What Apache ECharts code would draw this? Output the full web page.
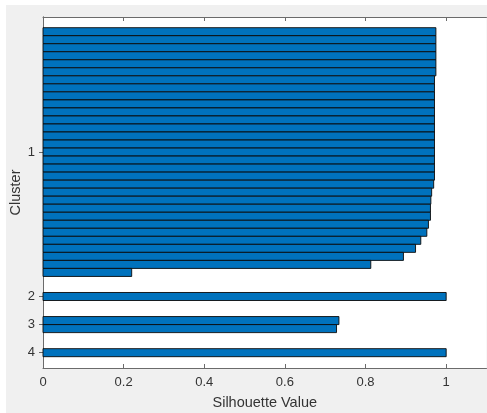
<!DOCTYPE html>
<html>
<head>
<meta charset="utf-8">
<script src="https://cdn.jsdelivr.net/npm/echarts@6/dist/echarts.min.js"></script>
<style>
  html, body { margin: 0; padding: 0; background: #fff; }
  #chart { position: absolute; left: 6px; top: 5px; width: 481px; height: 408px; }
</style>
</head>
<body>
<div id="chart"></div>
<script>
(() => {
    'use strict'

    // silhouette values per cluster, sorted descending inside each cluster
    const cluster1 = [0.9745, 0.9745, 0.9745, 0.9745, 0.9745, 0.9745,
        0.971, 0.971, 0.971, 0.971, 0.971, 0.971, 0.971, 0.971, 0.971, 0.971, 0.971, 0.971, 0.971,
        0.969, 0.964, 0.962, 0.961, 0.961, 0.956, 0.952, 0.937, 0.924, 0.894, 0.813, 0.22]
    const cluster2 = [1.0]
    const cluster3 = [0.734, 0.728]
    const cluster4 = [1.0]
    const clusterNames = ['1', '2', '3', '4']
    const xTicks = [0, 0.2, 0.4, 0.6, 0.8, 1]

    const clusters = [cluster1, cluster2, cluster3, cluster4]
    const GAP = 2

    // bar rows: [value, slot]; label positions at each cluster's middle
    const rows = []
    const centers = []
    let slot = 0
    clusters.forEach((vals, ci) => {
        if (ci > 0) slot += GAP
        centers.push(slot + vals.length / 2)
        vals.forEach(v => { rows.push([v, slot]); slot += 1 })
    })
    const yMin = -1.33
    const yMax = slot + 1.41

    const axisColor = '#6b6b6b'
    const textColor = '#333'
    const font = 'Liberation Sans, Arial, sans-serif'

    const nameOf = v => {
        const i = centers.findIndex(c => Math.abs(c - v) < 1e-6)
        return i >= 0 ? clusterNames[i] : ''
    }

    const yBase = {
        type: 'value',
        inverse: true,
        min: yMin,
        max: yMax,
        splitLine: {show: false},
        axisLine: {show: true, lineStyle: {color: axisColor, width: 1}},
        axisTick: {show: true, inside: true, length: 4, lineStyle: {color: axisColor}, customValues: centers}
    }
    const xBase = {
        type: 'value',
        min: 0,
        max: 1.1,
        splitLine: {show: false},
        axisLine: {show: true, onZero: false, lineStyle: {color: axisColor, width: 1}},
        axisTick: {show: true, inside: true, length: 4, lineStyle: {color: axisColor}, customValues: xTicks}
    }

    const chart = echarts.init(document.getElementById('chart'))
    chart.setOption({
        animation: false,
        backgroundColor: '#f0f0f0',
        grid: {
            left: 37, right: 0.5, top: 12, bottom: 45,
            outerBoundsMode: 'none',
            containLabel: false,
            show: true, backgroundColor: '#fff', borderWidth: 0
        },
        xAxis: [
            Object.assign({}, xBase, {
                position: 'bottom',
                name: 'Silhouette Value',
                nameLocation: 'middle',
                nameGap: 27,
                nameTextStyle: {color: textColor, fontSize: 14.5, fontFamily: font},
                axisLabel: {
                    color: textColor, fontSize: 13, fontFamily: font, margin: 8,
                    customValues: xTicks,
                    formatter: v => String(Math.round(v * 10) / 10)
                }
            }),
            Object.assign({}, xBase, {position: 'top', axisLabel: {show: false}})
        ],
        yAxis: [
            Object.assign({}, yBase, {
                position: 'left',
                name: 'Cluster',
                nameLocation: 'middle',
                nameGap: 20,
                nameMoveOverlap: false,
                nameTextStyle: {color: textColor, fontSize: 14.5, fontFamily: font},
                axisLabel: {
                    color: textColor, fontSize: 13, fontFamily: font, margin: 8,
                    customValues: centers,
                    formatter: nameOf
                }
            }),
            Object.assign({}, yBase, {position: 'right', axisLabel: {show: false}})
        ],
        series: [{
            type: 'custom',
            xAxisIndex: 0,
            yAxisIndex: 0,
            data: rows,
            renderItem: (params, api) => {
                const v = api.value(0)
                const s = api.value(1)
                const p0 = api.coord([0, s])
                const p1 = api.coord([v, s + 1])
                return {
                    type: 'rect',
                    shape: {
                        x: p0[0],
                        y: Math.min(p0[1], p1[1]),
                        width: p1[0] - p0[0],
                        height: Math.abs(p1[1] - p0[1])
                    },
                    style: {fill: '#0072bd', stroke: '#0a0a0a', lineWidth: 0.9}
                }
            }
        }]
    })
})()
</script>
</body>
</html>
